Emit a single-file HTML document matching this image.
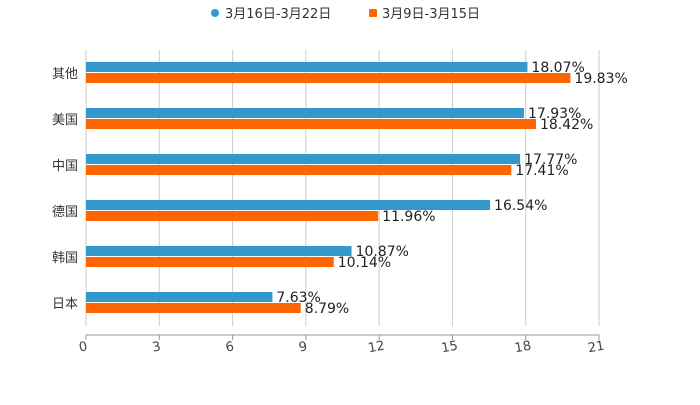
<!DOCTYPE html>
<html><head><meta charset="utf-8"><style>
body{margin:0;background:#fff;width:700px;height:400px;overflow:hidden}
text{font-family:"DejaVu Sans","Liberation Sans","Noto Sans CJK SC",sans-serif}
</style></head><body>
<svg id="chart" width="700" height="400" xmlns="http://www.w3.org/2000/svg">
<g>
<g><circle cx="215" cy="13" r="4" fill="#3399cc"/><text x="225" y="18" font-size="13" fill="#333">3月16日-3月22日</text></g>
<g><rect x="369" y="9" width="8" height="8" rx="1" fill="#ff6600"/><text x="382" y="18" font-size="13" fill="#333">3月9日-3月15日</text></g>
</g>
<g id="grid"></g>
<g id="bars"></g>
<g id="axes"></g>
</svg>
<script>
const categories=["其他","美国","中国","德国","韩国","日本"];
const week2=[18.07,17.93,17.77,16.54,10.87,7.63];
const week1=[19.83,18.42,17.41,11.96,10.14,8.79];
const ticks=[0,3,6,9,12,15,18,21];
const NS="http://www.w3.org/2000/svg";
const x0=86,x1=599,topY=50,botY=326,axisY=335;
const xs=v=>x0+(v/21)*(x1-x0);
const band=(botY-topY)/categories.length;
const yc=i=>topY+band*(i+0.5);
function mk(t,a,p){const e=document.createElementNS(NS,t);for(const k in a)e.setAttribute(k,a[k]);p.appendChild(e);return e;}
const grid=document.getElementById('grid'),bars=document.getElementById('bars'),axes=document.getElementById('axes');
ticks.forEach(t=>{
 const l=mk('line',{x1:xs(t),x2:xs(t),y1:topY,y2:botY,stroke:'#ccc','stroke-width':1},grid);
 
 
 const tm=mk('line',{x1:xs(t),x2:xs(t),y1:axisY,y2:axisY+5,stroke:'#999'},axes);
 
 
 const tx=mk('text',{x:xs(t)-3,y:axisY+16,'font-size':13,fill:'#444','text-anchor':'middle',transform:`rotate(-10 ${xs(t)-3} ${axisY+11})`},axes);
 tx.textContent=t;
 
 
});
const ax=mk('line',{x1:x0,x2:x1,y1:axisY,y2:axisY,stroke:'#999'},axes);


categories.forEach((c,i)=>{
 const y=yc(i);
 const lb=mk('text',{x:78,y:y+5,'font-size':13,fill:'#333','text-anchor':'end'},axes);
 lb.textContent=c;
 
 
 const b2=mk('rect',{x:x0,y:y-11,width:xs(week2[i])-x0,height:10,fill:'#3399cc'},bars);
 
 
 const b1=mk('rect',{x:x0,y:y,width:xs(week1[i])-x0,height:10,fill:'#ff6600'},bars);
 
 
 const t2=mk('text',{x:xs(week2[i])+4,y:y-1,'font-size':14,fill:'#222'},bars);
 t2.textContent=week2[i].toFixed(2)+'%';
 
 
 const t1=mk('text',{x:xs(week1[i])+4,y:y+10,'font-size':14,fill:'#222'},bars);
 t1.textContent=week1[i].toFixed(2)+'%';
 
 
});
</script>
</body></html>
